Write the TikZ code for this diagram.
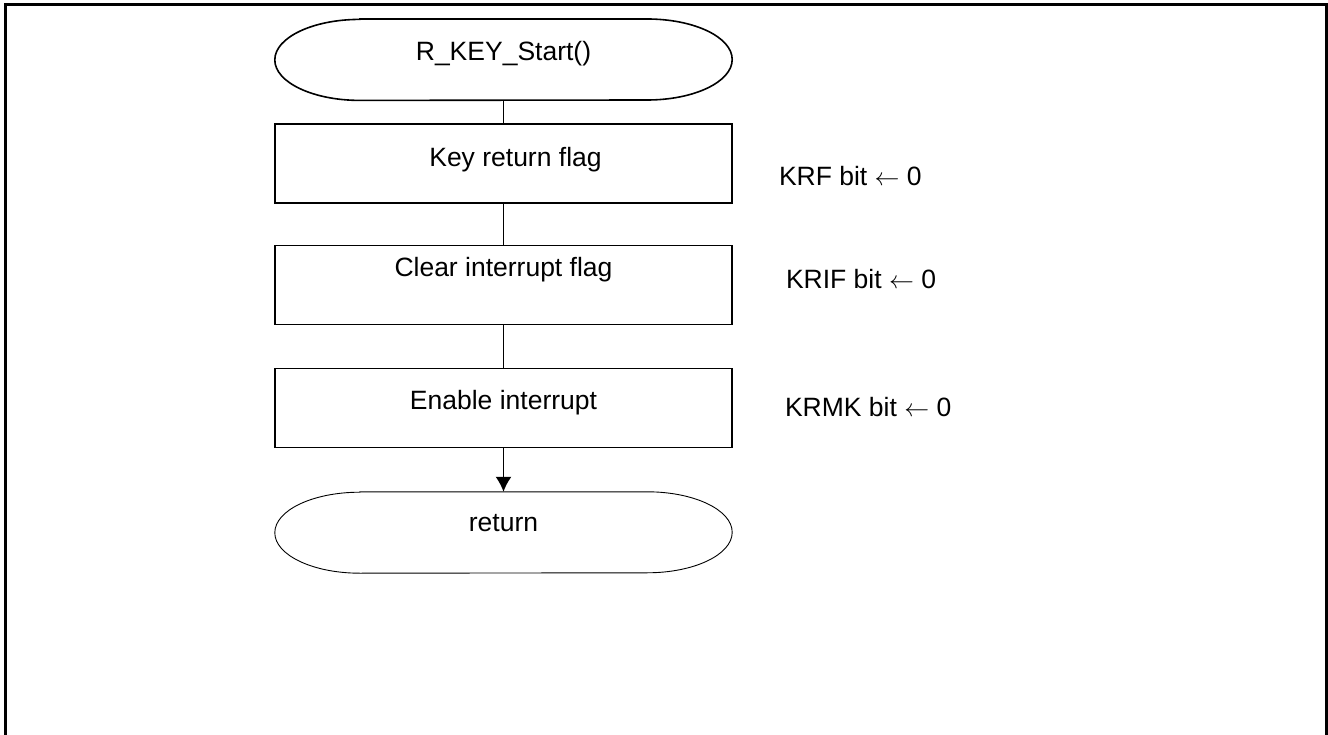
\documentclass[tikz,border=0pt]{standalone}
\usepackage{fontspec}
\setmainfont{Liberation Sans}
\usetikzlibrary{positioning,arrows.meta}
\tikzstyle{term}=[minimum height = 81pt, minimum width=457pt, inner sep=0pt, text height=19pt]
\tikzstyle{proc}=[draw, line width=1.6pt, minimum height = 79pt, minimum width=457pt, inner sep=0pt, text height=19pt]
\tikzstyle{reg}=[inner sep=0pt, text height=19pt, text depth=0pt]
% outline of a terminal node: flat top and bottom, elliptic ends
\newcommand{\termedge}[2]{%
  \draw[line width=#2] ([xshift=85pt]#1.north west) -- ([xshift=-85pt]#1.north east)
    arc[start angle=90, end angle=-90, x radius=85pt, y radius=40.5pt]
    -- ([xshift=85pt]#1.south west)
    arc[start angle=270, end angle=90, x radius=85pt, y radius=40.5pt] -- cycle;}

\begin{document}
\begin{tikzpicture}[x=1pt,y=-1pt,node distance=2cm,>=Latex]
\useasboundingbox (0,0) rectangle (1328,735);
\clip (0,0) rectangle (1328,735);
\fontsize{26.5}{31}\selectfont
\draw[line width=3pt] (5,5) rectangle (1326,760);

  \node[term, text depth=18pt] at (503.5,59.7) (start) {R\_KEY\_Start()};
  \termedge{start}{1.6pt}

  \node[proc, text depth=13pt, below of = start, node distance = 103.8pt] (krf) {\hspace*{24pt}Key return flag};
\draw[line width=1.6pt] (start) -- (krf);

  \node[proc, text depth=36pt, below of = krf, node distance = 121.5pt] (clr) {Clear interrupt flag};
\draw[line width=1.6pt] (krf) -- (clr);

  \node[proc, text depth=16pt, below of = clr, node distance = 123pt] (enable) {Enable interrupt};
\draw[line width=1.6pt] (clr) -- (enable);

  \node[term, text depth=22pt, below of = enable, node distance = 124.5pt] (ret) {return};
  \termedge{ret}{0.9pt}
\draw[->,line width=1.6pt,>={Latex[length=15pt,width=16pt]}] (enable) -- (ret);

\node[reg, right=46pt of krf, yshift=-12.5pt] (krfbit) {KRF bit $\leftarrow$ 0};
\node[reg, right=53pt of clr, yshift=5.5pt] (krifbit) {KRIF bit $\leftarrow$ 0};
\node[reg, right=52pt of enable, yshift=1pt] (krmkbit) {KRMK bit $\leftarrow$ 0};
\end{tikzpicture}
\end{document}
